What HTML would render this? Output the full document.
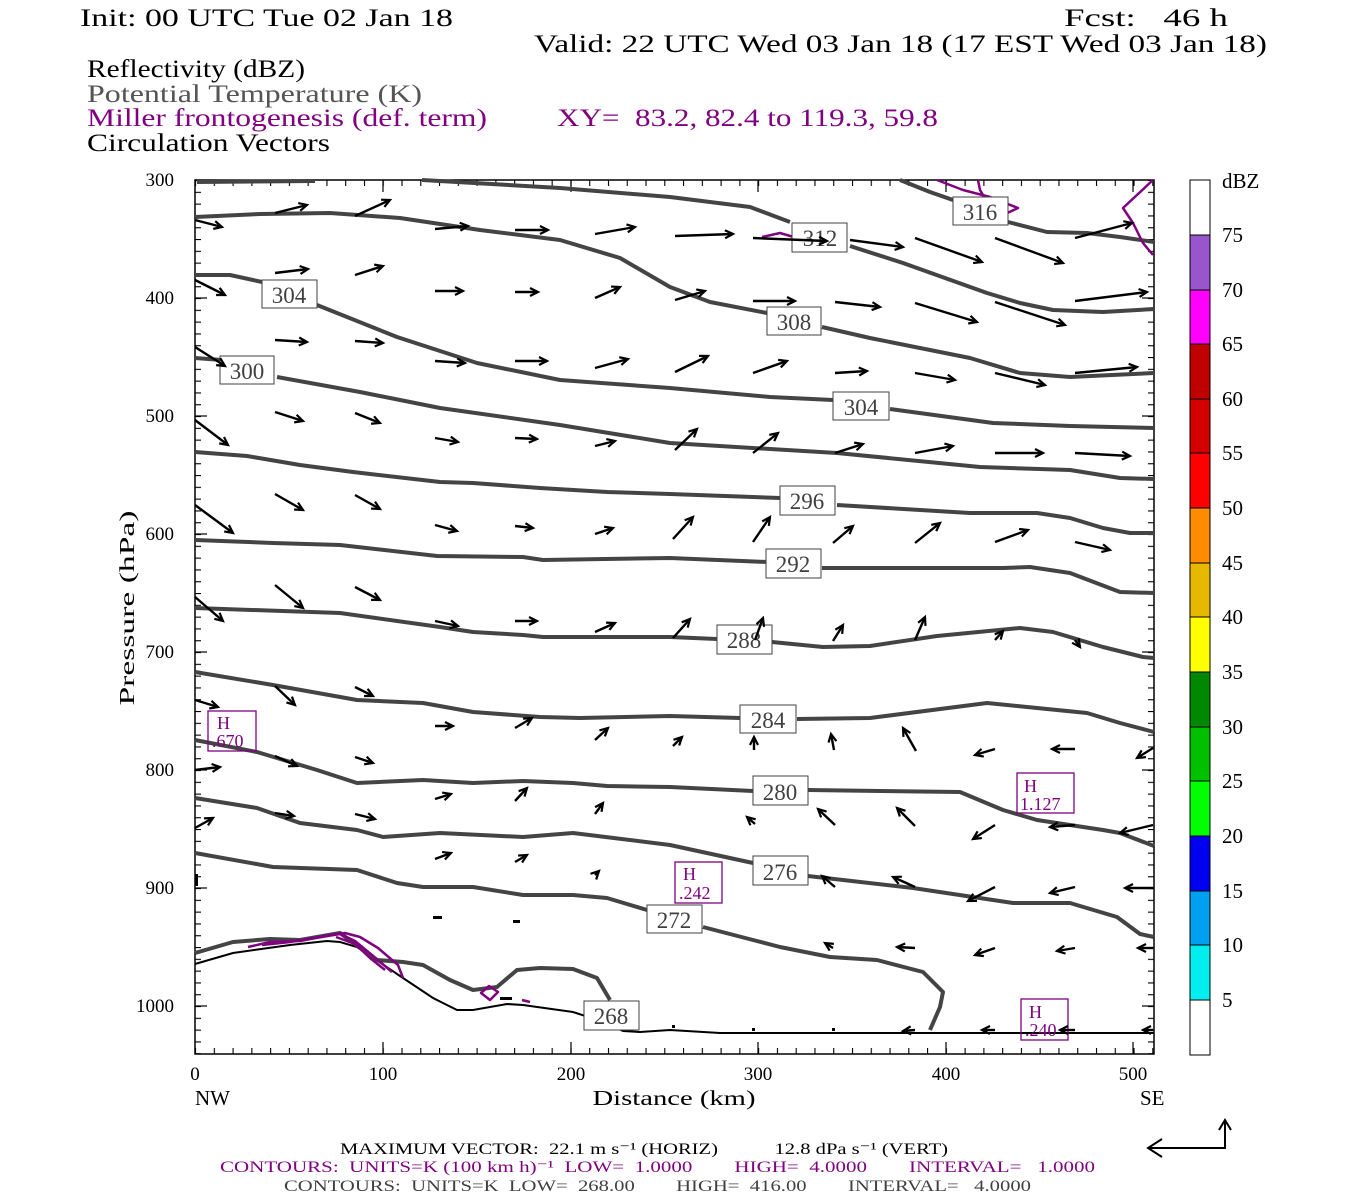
<!DOCTYPE html>
<html><head><meta charset="utf-8"><style>
html,body{margin:0;padding:0;background:#fff;width:1350px;height:1200px;overflow:hidden}
svg{display:block}
text{font-family:"Liberation Serif","DejaVu Serif",serif;white-space:pre}
</style></head><body>
<svg width="1350" height="1200" viewBox="0 0 1350 1200" xmlns="http://www.w3.org/2000/svg" xml:space="preserve">
<defs>
<marker id="ah" markerWidth="12" markerHeight="12" refX="9" refY="5" orient="auto" markerUnits="userSpaceOnUse">
<path d="M1,1 L9,5 L1,9" fill="none" stroke="#000" stroke-width="2.2"/>
</marker>
<pattern id="tx" x="195" y="0" width="18.77" height="10" patternUnits="userSpaceOnUse"><line x1="0.5" y1="0" x2="0.5" y2="10" stroke="#000" stroke-width="1.2"/></pattern>
<pattern id="ty" x="0" y="180" width="10" height="11.8" patternUnits="userSpaceOnUse"><line x1="0" y1="0.5" x2="10" y2="0.5" stroke="#000" stroke-width="1.2"/></pattern>
</defs>

<!-- header -->
<text x="80" y="26" font-size="25" textLength="373" lengthAdjust="spacingAndGlyphs">Init: 00 UTC Tue 02 Jan 18</text>
<text x="1064" y="26" font-size="25" textLength="164" lengthAdjust="spacingAndGlyphs">Fcst:   46 h</text>
<text x="534" y="52" font-size="25" textLength="733" lengthAdjust="spacingAndGlyphs">Valid: 22 UTC Wed 03 Jan 18 (17 EST Wed 03 Jan 18)</text>
<text x="87" y="77" font-size="25" textLength="218" lengthAdjust="spacingAndGlyphs">Reflectivity (dBZ)</text>
<text x="87" y="102" font-size="25" fill="#555" textLength="335" lengthAdjust="spacingAndGlyphs">Potential Temperature (K)</text>
<text x="87" y="126" font-size="25" fill="#800080" textLength="400" lengthAdjust="spacingAndGlyphs">Miller frontogenesis (def. term)</text>
<text x="557" y="126" font-size="25" fill="#800080" textLength="381" lengthAdjust="spacingAndGlyphs">XY=  83.2, 82.4 to 119.3, 59.8</text>
<text x="87" y="151" font-size="25" textLength="243" lengthAdjust="spacingAndGlyphs">Circulation Vectors</text>

<!-- ticks -->
<rect x="195" y="1048" width="959" height="6" fill="url(#tx)"/>
<rect x="195" y="180" width="959" height="6" fill="url(#tx)"/>
<rect x="195" y="180" width="6" height="874" fill="url(#ty)"/>
<rect x="1148" y="180" width="6" height="874" fill="url(#ty)"/>
<g stroke="#000" stroke-width="1.2">
<line x1="383" y1="1042" x2="383" y2="1054"/><line x1="571" y1="1042" x2="571" y2="1054"/><line x1="758" y1="1042" x2="758" y2="1054"/><line x1="946" y1="1042" x2="946" y2="1054"/><line x1="1133" y1="1042" x2="1133" y2="1054"/>
<line x1="383" y1="180" x2="383" y2="192"/><line x1="571" y1="180" x2="571" y2="192"/><line x1="758" y1="180" x2="758" y2="192"/><line x1="946" y1="180" x2="946" y2="192"/><line x1="1133" y1="180" x2="1133" y2="192"/>
<line x1="195" y1="298" x2="207" y2="298"/><line x1="195" y1="416" x2="207" y2="416"/><line x1="195" y1="534" x2="207" y2="534"/><line x1="195" y1="652" x2="207" y2="652"/><line x1="195" y1="770" x2="207" y2="770"/><line x1="195" y1="888" x2="207" y2="888"/><line x1="195" y1="1006" x2="207" y2="1006"/>
<line x1="1142" y1="298" x2="1154" y2="298"/><line x1="1142" y1="416" x2="1154" y2="416"/><line x1="1142" y1="534" x2="1154" y2="534"/><line x1="1142" y1="652" x2="1154" y2="652"/><line x1="1142" y1="770" x2="1154" y2="770"/><line x1="1142" y1="888" x2="1154" y2="888"/><line x1="1142" y1="1006" x2="1154" y2="1006"/>
</g>
<rect x="195" y="180" width="959" height="874" fill="none" stroke="#000" stroke-width="1.5"/>

<!-- axis labels -->
<g font-size="19" text-anchor="end">
<text x="174" y="186">300</text><text x="174" y="304">400</text><text x="174" y="422">500</text><text x="174" y="540">600</text><text x="174" y="658">700</text><text x="174" y="776">800</text><text x="174" y="894">900</text><text x="174" y="1012">1000</text>
</g>
<g font-size="19" text-anchor="middle">
<text x="195" y="1080">0</text><text x="383" y="1080">100</text><text x="571" y="1080">200</text><text x="758" y="1080">300</text><text x="946" y="1080">400</text><text x="1133" y="1080">500</text>
</g>
<text x="195" y="1105" font-size="21">NW</text>
<text x="1140" y="1105" font-size="21">SE</text>
<text x="674" y="1105" font-size="21" text-anchor="middle" textLength="163" lengthAdjust="spacingAndGlyphs">Distance (km)</text>
<text transform="translate(134,608) rotate(-90)" font-size="21" text-anchor="middle" textLength="195" lengthAdjust="spacingAndGlyphs">Pressure (hPa)</text>

<!-- terrain line -->
<polyline fill="none" stroke="#000" stroke-width="2" points="195,964 233,953 290,945 327,941 340,942 357,947 403,978 433,998 457,1010 473,1010 507,1004 523,1005 573,1012 607,1023 623,1031 640,1032 670,1030 720,1033 1154,1033"/>

<!-- theta contours -->
<g fill="none" stroke="#444" stroke-width="4" stroke-linejoin="round">
<polyline points="197,182 315,181"/>
<polyline points="900,180 930,192 953,200"/>
<polyline points="1008,222 1047,232 1087,233 1120,237 1154,242"/>
<polyline points="422,180 560,188 670,197 750,207 790,222"/>
<polyline points="850,246 903,263 987,293 1020,303 1053,310 1103,312 1154,309"/>
<polyline points="195,217 260,214 330,213 400,218 480,230 560,240 620,258 670,287 710,302 767,313"/>
<polyline points="822,327 870,338 970,358 1020,373 1070,377 1154,373"/>
<polyline points="195,275 230,275 262,282"/>
<polyline points="317,305 397,337 477,363 560,380 670,388 770,397 833,400"/>
<polyline points="890,409 993,423 1070,426 1154,428"/>
<polyline points="195,358 222,360"/>
<polyline points="277,377 360,392 440,408 560,425 670,443 837,453 980,467 1070,470 1120,478 1154,479"/>
<polyline points="195,452 247,456 300,465 353,472 440,482 473,483 540,488 607,492 670,494 780,498"/>
<polyline points="837,505 970,513 1037,513 1070,518 1103,528 1130,533 1154,533"/>
<polyline points="195,540 273,543 340,545 437,556 523,557 543,560 670,558 767,562"/>
<polyline points="822,568 847,568 1003,568 1030,567 1070,573 1120,592 1154,593"/>
<polyline points="195,608 340,613 440,627 473,632 523,635 543,637 670,637 717,639"/>
<polyline points="772,642 823,647 870,646 937,636 1020,628 1053,632 1103,647 1143,657 1154,658"/>
<polyline points="195,672 273,685 357,700 423,703 473,712 540,717 580,718 670,716 740,718"/>
<polyline points="797,719 870,718 987,703 1037,708 1087,713 1120,723 1154,732"/>
<polyline points="195,740 257,752 317,770 357,783 423,780 473,783 523,781 573,783 607,786 670,787 753,791"/>
<polyline points="808,790 960,792 1003,810 1037,820 1103,830 1120,833 1154,846"/>
<polyline points="195,798 257,808 300,823 357,830 383,837 440,833 523,837 573,833 670,845 753,863"/>
<polyline points="808,876 913,888 1013,903 1070,903 1117,917 1140,934 1154,937"/>
<polyline points="195,853 273,867 357,870 397,883 423,887 473,887 523,895 573,895 607,898 647,910"/>
<polyline points="703,927 753,940 780,947 830,957 877,960 923,972 943,992 940,1007 930,1030"/>
<polyline points="195,953 233,942 270,939 300,940 340,933 377,960 403,962 423,965 450,980 473,990 497,987 517,970 540,968 573,969 597,978 610,1000"/>
</g>

<!-- purple frontogenesis -->
<g fill="none" stroke="#800080" stroke-width="2.5" stroke-linejoin="round">
<polyline points="248,947 270,942 300,941 330,935 345,933 360,937 378,948 398,965 403,978"/>
<polyline points="262,945 290,942 320,937 340,934 355,941 372,955 392,972"/>
<polyline points="336,937 355,944 370,958 385,970"/>
<polygon points="481,993 489,986 498,992 490,1000"/>
<polyline points="522,1000 530,1002"/>
<polyline points="937,180 963,190 990,197 1018,208 1003,215 990,207 980,190 978,180"/>
<polyline points="1153,180 1123,208 1133,223 1143,243 1153,255"/>
<polyline points="762,237 780,233 797,238"/>
</g>

<!-- label boxes -->
<g font-size="23" fill="#404040" text-anchor="middle">
<rect x="953" y="197" width="55" height="28" fill="#fff" stroke="#404040"/><text x="980" y="220">316</text>
<rect x="792" y="223" width="55" height="29" fill="#fff" stroke="#404040"/><text x="820" y="246">312</text>
<rect x="767" y="307" width="54" height="28" fill="#fff" stroke="#404040"/><text x="794" y="330">308</text>
<rect x="262" y="280" width="55" height="28" fill="#fff" stroke="#404040"/><text x="289" y="303">304</text>
<rect x="833" y="392" width="56" height="28" fill="#fff" stroke="#404040"/><text x="861" y="415">304</text>
<rect x="220" y="356" width="54" height="28" fill="#fff" stroke="#404040"/><text x="247" y="379">300</text>
<rect x="780" y="486" width="55" height="29" fill="#fff" stroke="#404040"/><text x="807" y="509">296</text>
<rect x="766" y="549" width="55" height="29" fill="#fff" stroke="#404040"/><text x="793" y="572">292</text>
<rect x="717" y="625" width="55" height="29" fill="#fff" stroke="#404040"/><text x="744" y="648">288</text>
<rect x="740" y="705" width="56" height="28" fill="#fff" stroke="#404040"/><text x="768" y="728">284</text>
<rect x="753" y="776" width="55" height="29" fill="#fff" stroke="#404040"/><text x="780" y="800">280</text>
<rect x="753" y="856" width="55" height="29" fill="#fff" stroke="#404040"/><text x="780" y="880">276</text>
<rect x="647" y="905" width="55" height="28" fill="#fff" stroke="#404040"/><text x="674" y="928">272</text>
<rect x="584" y="1001" width="55" height="29" fill="#fff" stroke="#404040"/><text x="611" y="1024">268</text>
</g>
<g fill="none" stroke="#800080" stroke-width="1.3">
<rect x="208" y="711" width="48" height="40"/>
<rect x="675" y="862" width="47" height="41"/>
<rect x="1017" y="773" width="57" height="40"/>
<rect x="1021" y="999" width="47" height="41"/>
</g>
<g font-size="18" fill="#800080">
<text x="217" y="729">H</text><text x="212" y="747">.670</text>
<text x="683" y="880">H</text><text x="679" y="899">.242</text>
<text x="1024" y="792">H</text><text x="1020" y="810">1.127</text>
<text x="1029" y="1018">H</text><text x="1025" y="1036">.240</text>
</g>

<!-- vectors -->
<g stroke="#000" stroke-width="2.4" marker-end="url(#ah)">
<line x1="195" y1="220" x2="222" y2="227"/><line x1="275" y1="213" x2="307" y2="205"/><line x1="355" y1="216" x2="390" y2="200"/><line x1="435" y1="229" x2="468" y2="226"/><line x1="515" y1="230" x2="548" y2="230"/><line x1="595" y1="234" x2="635" y2="227"/><line x1="675" y1="236" x2="733" y2="234"/><line x1="753" y1="238" x2="827" y2="241"/><line x1="850" y1="240" x2="903" y2="247"/><line x1="915" y1="238" x2="982" y2="262"/><line x1="995" y1="238" x2="1063" y2="263"/><line x1="1075" y1="238" x2="1132" y2="223"/>
<line x1="195" y1="280" x2="225" y2="295"/><line x1="275" y1="273" x2="308" y2="269"/><line x1="355" y1="275" x2="383" y2="266"/><line x1="435" y1="291" x2="463" y2="291"/><line x1="515" y1="292" x2="538" y2="292"/><line x1="595" y1="298" x2="620" y2="287"/><line x1="675" y1="300" x2="705" y2="291"/><line x1="753" y1="301" x2="795" y2="301"/><line x1="835" y1="302" x2="880" y2="307"/><line x1="915" y1="303" x2="977" y2="322"/><line x1="995" y1="302" x2="1065" y2="325"/><line x1="1075" y1="301" x2="1147" y2="292"/>
<line x1="195" y1="347" x2="225" y2="366"/><line x1="275" y1="340" x2="307" y2="342"/><line x1="355" y1="341" x2="383" y2="343"/><line x1="435" y1="361" x2="465" y2="363"/><line x1="515" y1="361" x2="547" y2="361"/><line x1="595" y1="368" x2="628" y2="359"/><line x1="675" y1="372" x2="708" y2="356"/><line x1="753" y1="373" x2="787" y2="361"/><line x1="835" y1="373" x2="867" y2="371"/><line x1="915" y1="373" x2="955" y2="380"/><line x1="995" y1="373" x2="1045" y2="385"/><line x1="1075" y1="373" x2="1137" y2="367"/>
<line x1="195" y1="420" x2="228" y2="445"/><line x1="275" y1="412" x2="303" y2="421"/><line x1="355" y1="413" x2="380" y2="423"/><line x1="435" y1="438" x2="458" y2="442"/><line x1="515" y1="438" x2="537" y2="439"/><line x1="595" y1="446" x2="615" y2="441"/><line x1="675" y1="450" x2="697" y2="429"/><line x1="753" y1="453" x2="778" y2="433"/><line x1="835" y1="453" x2="863" y2="444"/><line x1="915" y1="453" x2="953" y2="446"/><line x1="995" y1="453" x2="1043" y2="453"/><line x1="1075" y1="453" x2="1130" y2="456"/>
<line x1="195" y1="505" x2="233" y2="533"/><line x1="275" y1="494" x2="303" y2="510"/><line x1="355" y1="495" x2="380" y2="509"/><line x1="435" y1="525" x2="457" y2="531"/><line x1="515" y1="526" x2="533" y2="528"/><line x1="595" y1="534" x2="613" y2="528"/><line x1="673" y1="539" x2="693" y2="517"/><line x1="753" y1="542" x2="770" y2="517"/><line x1="833" y1="543" x2="853" y2="526"/><line x1="915" y1="543" x2="940" y2="523"/><line x1="995" y1="542" x2="1028" y2="530"/><line x1="1075" y1="542" x2="1110" y2="550"/>
<line x1="195" y1="597" x2="223" y2="621"/><line x1="275" y1="585" x2="303" y2="608"/><line x1="355" y1="587" x2="380" y2="600"/><line x1="435" y1="621" x2="458" y2="626"/><line x1="515" y1="621" x2="537" y2="621"/><line x1="595" y1="632" x2="615" y2="623"/><line x1="673" y1="638" x2="690" y2="619"/><line x1="755" y1="640" x2="763" y2="618"/><line x1="833" y1="641" x2="843" y2="625"/><line x1="915" y1="640" x2="925" y2="617"/><line x1="995" y1="640" x2="1003" y2="631"/><line x1="1075" y1="640" x2="1080" y2="647"/>
<line x1="195" y1="700" x2="218" y2="707"/><line x1="275" y1="686" x2="295" y2="705"/><line x1="355" y1="687" x2="373" y2="696"/><line x1="435" y1="726" x2="453" y2="726"/><line x1="515" y1="728" x2="532" y2="718"/><line x1="595" y1="740" x2="608" y2="728"/><line x1="673" y1="746" x2="682" y2="737"/><line x1="754" y1="750" x2="754" y2="737"/><line x1="834" y1="750" x2="831" y2="734"/><line x1="916" y1="751" x2="903" y2="728"/><line x1="995" y1="749" x2="975" y2="755"/><line x1="1075" y1="749" x2="1052" y2="749"/><line x1="1153" y1="748" x2="1137" y2="758"/>
<line x1="195" y1="770" x2="220" y2="767"/><line x1="275" y1="756" x2="297" y2="766"/><line x1="355" y1="757" x2="373" y2="763"/><line x1="435" y1="799" x2="451" y2="794"/><line x1="515" y1="801" x2="527" y2="788"/><line x1="595" y1="814" x2="603" y2="803"/><line x1="755" y1="824" x2="747" y2="817"/><line x1="835" y1="825" x2="818" y2="809"/><line x1="915" y1="826" x2="897" y2="808"/><line x1="995" y1="825" x2="973" y2="839"/><line x1="1075" y1="825" x2="1050" y2="827"/><line x1="1153" y1="825" x2="1120" y2="833"/>
<line x1="195" y1="828" x2="213" y2="818"/><line x1="275" y1="813" x2="294" y2="816"/><line x1="355" y1="814" x2="375" y2="819"/><line x1="435" y1="859" x2="451" y2="853"/><line x1="515" y1="862" x2="527" y2="855"/><line x1="595" y1="875" x2="599" y2="871"/><line x1="835" y1="887" x2="822" y2="876"/><line x1="915" y1="887" x2="893" y2="877"/><line x1="995" y1="887" x2="968" y2="901"/><line x1="1075" y1="887" x2="1050" y2="893"/><line x1="1153" y1="888" x2="1125" y2="888"/>
<line x1="833" y1="948" x2="825" y2="943"/><line x1="915" y1="948" x2="897" y2="947"/><line x1="995" y1="948" x2="975" y2="955"/><line x1="1075" y1="948" x2="1057" y2="951"/><line x1="1153" y1="948" x2="1138" y2="948"/>
<line x1="915" y1="1030" x2="903" y2="1031"/><line x1="995" y1="1030" x2="982" y2="1030"/><line x1="1075" y1="1030" x2="1060" y2="1030"/><line x1="1153" y1="1030" x2="1143" y2="1030"/>
</g>
<g fill="#000">
<rect x="433" y="916" width="9" height="3"/><rect x="513" y="920" width="7" height="3"/><rect x="500" y="997" width="12" height="3"/><rect x="195" y="874" width="3" height="12"/><rect x="672" y="1025" width="3" height="3"/><rect x="752" y="1028" width="3" height="3"/><rect x="832" y="1028" width="3" height="3"/>
</g>

<!-- colorbar -->
<g stroke="#000" stroke-width="1">
<rect x="1190" y="180" width="20" height="55" fill="#fff"/>
<rect x="1190" y="235" width="20" height="55" fill="#9955cc"/>
<rect x="1190" y="290" width="20" height="54" fill="#ff00ff"/>
<rect x="1190" y="344" width="20" height="55" fill="#c00000"/>
<rect x="1190" y="399" width="20" height="54" fill="#d40000"/>
<rect x="1190" y="453" width="20" height="55" fill="#ff0000"/>
<rect x="1190" y="508" width="20" height="55" fill="#ff8c00"/>
<rect x="1190" y="563" width="20" height="54" fill="#e6b800"/>
<rect x="1190" y="617" width="20" height="55" fill="#ffff00"/>
<rect x="1190" y="672" width="20" height="55" fill="#008800"/>
<rect x="1190" y="727" width="20" height="54" fill="#00c000"/>
<rect x="1190" y="781" width="20" height="55" fill="#00ff00"/>
<rect x="1190" y="836" width="20" height="55" fill="#0000f0"/>
<rect x="1190" y="891" width="20" height="54" fill="#00a0f0"/>
<rect x="1190" y="945" width="20" height="55" fill="#00eeee"/>
<rect x="1190" y="1000" width="20" height="55" fill="#fff"/>
</g>
<g font-size="21">
<text x="1222" y="188">dBZ</text>
<text x="1222" y="242">75</text><text x="1222" y="297">70</text><text x="1222" y="351">65</text><text x="1222" y="406">60</text><text x="1222" y="460">55</text><text x="1222" y="515">50</text><text x="1222" y="570">45</text><text x="1222" y="624">40</text><text x="1222" y="679">35</text><text x="1222" y="734">30</text><text x="1222" y="788">25</text><text x="1222" y="843">20</text><text x="1222" y="898">15</text><text x="1222" y="952">10</text><text x="1222" y="1007">5</text>
</g>

<!-- bottom text -->
<g font-size="16">
<text x="340" y="1154" textLength="608" lengthAdjust="spacingAndGlyphs">MAXIMUM VECTOR:  22.1 m s⁻¹ (HORIZ)           12.8 dPa s⁻¹ (VERT)</text>
<text x="220" y="1172" fill="#800080" textLength="875" lengthAdjust="spacingAndGlyphs">CONTOURS:  UNITS=K (100 km h)⁻¹  LOW=  1.0000        HIGH=  4.0000        INTERVAL=   1.0000</text>
<text x="284" y="1191" fill="#404040" textLength="747" lengthAdjust="spacingAndGlyphs">CONTOURS:  UNITS=K  LOW=  268.00        HIGH=  416.00        INTERVAL=   4.0000</text>
</g>
<g fill="none" stroke="#000" stroke-width="2">
<polyline points="1225,1122 1225,1148 1148,1148"/>
<polyline points="1162,1139 1148,1148 1162,1157"/>
<polyline points="1219,1130 1225,1120 1231,1130"/>
</g>
</svg>
</body></html>
